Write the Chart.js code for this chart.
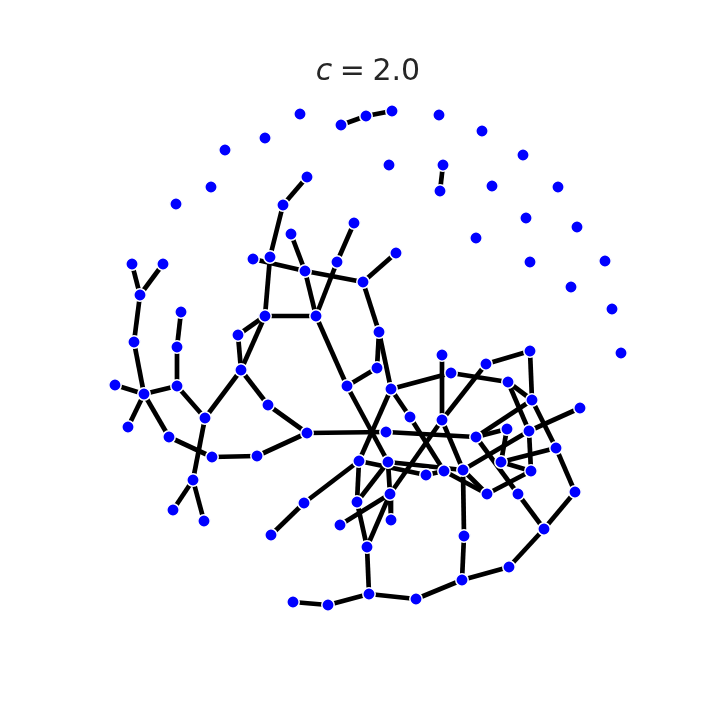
<!DOCTYPE html>
<html>
<head>
<meta charset="utf-8">
<script src="https://cdn.jsdelivr.net/npm/chart.js@4.4.1/dist/chart.umd.min.js"></script>
<style>
  html, body { margin: 0; padding: 0; background: #ffffff; }
  #contenedor { width: 720px; height: 720px; }
</style>
</head>
<body>
<div id="contenedor"><canvas id="grafo" width="720" height="720"></canvas></div>
<script>
// Título de la figura (la "c" va en cursiva, como en mathtext)
const tituloVariable = 'c';
const tituloResto = '\u2005=\u20052.0';

// Posiciones de los nodos (coordenadas del dibujo, y hacia abajo)
const nodosX = [
  300, 341, 366, 392, 439, 482, 523, 558, 577, 605, 612, 621, 265, 225, 211, 176,
  389, 443, 440, 492, 526, 476, 530, 571, 307, 283,
  132, 163, 140, 134, 144, 115, 181, 177, 177, 128, 169, 205, 212, 257, 193, 173, 204,
  241, 238, 268, 307,
  265, 316, 270, 253, 291, 305, 337, 354, 396, 363, 379, 377, 347, 391,
  386, 410, 442, 451, 442, 486, 530, 508, 532, 580, 476, 507, 529, 556, 501, 531,
  575, 544, 518, 487, 463, 444, 426, 388, 359, 357, 390, 391, 340, 367, 304, 271,
  464, 462, 509, 416, 369, 328, 293
];
const nodosY = [
  114, 125, 116, 111, 115, 131, 155, 187, 227, 261, 309, 353, 138, 150, 187, 204,
  165, 165, 191, 186, 218, 238, 262, 287, 177, 205,
  264, 264, 295, 342, 394, 385, 312, 347, 386, 427, 437, 418, 457, 456, 480, 510, 521,
  370, 335, 405, 433,
  316, 316, 257, 259, 234, 271, 262, 223, 253, 282, 332, 368, 386, 389,
  432, 417, 355, 373, 420, 364, 351, 382, 400, 408, 437, 429, 431, 448, 462, 471,
  492, 529, 494, 494, 470, 471, 475, 462, 461, 502, 494, 520, 525, 547, 503, 535,
  536, 580, 567, 599, 594, 605, 602
];

// Aristas: pares de índices de nodos
const aristas = [
  [1, 2], [2, 3], [17, 18], [24, 25],
  [26, 28], [27, 28], [28, 29], [29, 30], [31, 30], [32, 33], [33, 34], [34, 30],
  [30, 35], [30, 36], [36, 38], [34, 37], [37, 40], [37, 43], [44, 43], [44, 47],
  [47, 43], [43, 45], [45, 46], [38, 39], [39, 46], [40, 41], [40, 42],
  [47, 48], [49, 47], [25, 49], [50, 52], [51, 52], [52, 48], [53, 48], [54, 53],
  [52, 56], [55, 56], [56, 57], [57, 58], [57, 60], [48, 59], [59, 58],
  [46, 61], [59, 84], [60, 85], [60, 62], [60, 64], [64, 68], [66, 67], [66, 65],
  [67, 69], [63, 65], [68, 69], [68, 73], [69, 74], [70, 73], [73, 76], [74, 75],
  [74, 77], [77, 78], [79, 78], [78, 95], [75, 76], [72, 75], [71, 72], [71, 69],
  [71, 79], [61, 71], [81, 73], [83, 82], [62, 82], [65, 81], [65, 87], [85, 83],
  [84, 81], [84, 87], [87, 88], [85, 86], [86, 84], [86, 90], [87, 90], [89, 87],
  [85, 91], [91, 92], [82, 80], [81, 80], [80, 76], [81, 93], [93, 94], [94, 95],
  [94, 96], [96, 97], [97, 98], [98, 99], [97, 90]
];

const puntos = nodosX.map((x, i) => ({ x: x, y: nodosY[i] }));

// Cada arista es un pequeño dataset de dos puntos unidos
const datasetsAristas = aristas.map(par => ({
  data: [puntos[par[0]], puntos[par[1]]],
  showLine: true,
  borderColor: '#000000',
  borderWidth: 4.7,
  pointRadius: 0,
  pointHoverRadius: 0,
  order: 1
}));

const datasetNodos = {
  data: puntos,
  showLine: false,
  pointRadius: 6.2,
  pointHoverRadius: 6.2,
  backgroundColor: '#0000ff',
  borderColor: '#ffffff',
  borderWidth: 1.5,
  order: 0
};

// Dibuja el título con la variable en cursiva
const pluginTitulo = {
  id: 'tituloMixto',
  afterDraw(chart) {
    const ctx = chart.ctx;
    ctx.save();
    const fuenteCursiva = 'italic 30px "DejaVu Sans"';
    const fuenteNormal = '30px "DejaVu Sans"';
    ctx.font = fuenteCursiva;
    const anchoC = ctx.measureText(tituloVariable).width;
    ctx.font = fuenteNormal;
    const anchoResto = ctx.measureText(tituloResto).width;
    const inicio = 368 - (anchoC + anchoResto) / 2;
    ctx.fillStyle = '#262626';
    ctx.textBaseline = 'alphabetic';
    ctx.textAlign = 'left';
    ctx.font = fuenteCursiva;
    ctx.fillText(tituloVariable, inicio, 80);
    ctx.font = fuenteNormal;
    ctx.fillText(tituloResto, inicio + anchoC, 80);
    ctx.restore();
  }
};

new Chart(document.getElementById('grafo'), {
  type: 'scatter',
  data: { datasets: [datasetNodos, ...datasetsAristas] },
  options: {
    responsive: false,
    animation: false,
    events: [],
    layout: { padding: 0, autoPadding: false },
    plugins: {
      legend: { display: false },
      tooltip: { enabled: false },
      title: { display: false }
    },
    scales: {
      x: { type: 'linear', min: 0, max: 720, display: false },
      y: { type: 'linear', min: 0, max: 720, reverse: true, display: false }
    }
  },
  plugins: [pluginTitulo]
});
</script>
</body>
</html>
